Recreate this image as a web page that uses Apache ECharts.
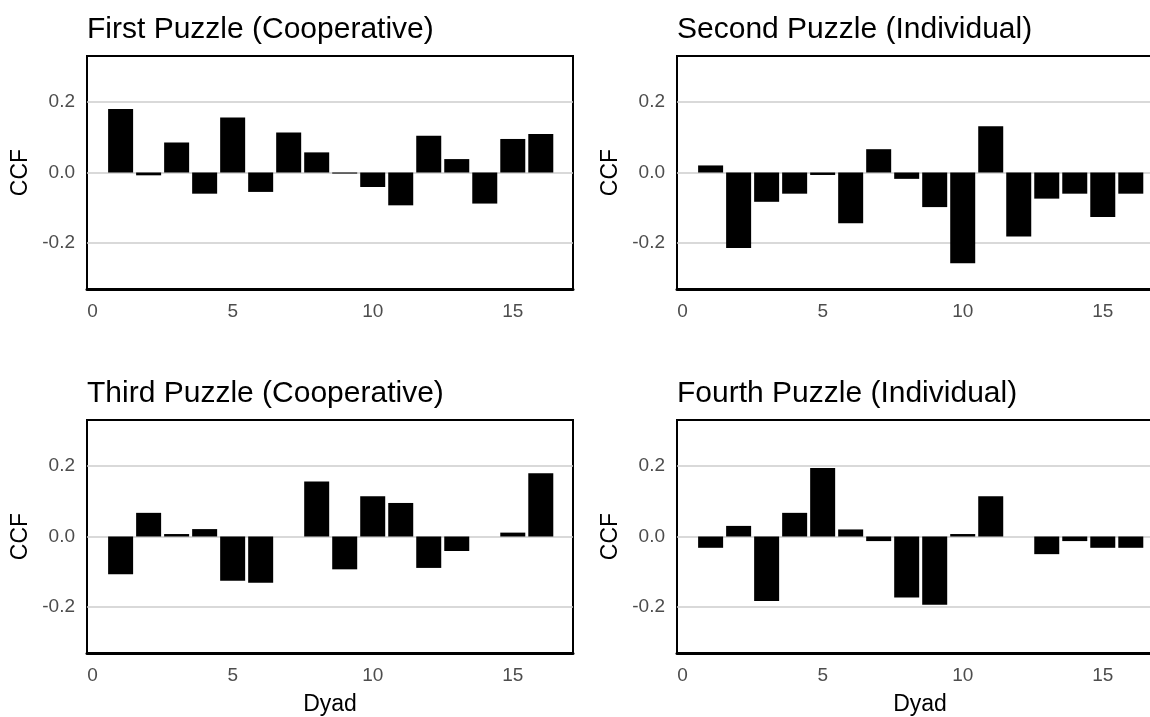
<!DOCTYPE html>
<html>
<head>
<meta charset="utf-8">
<script src="https://cdn.jsdelivr.net/npm/echarts@6/dist/echarts.min.js"></script>
<style>
  html, body { margin: 0; padding: 0; background: #fff; }
  #chart { width: 1150px; height: 717px; }
</style>
</head>
<body>
<div id="chart"></div>
<script>
// dyad numbers shared by every panel
const dyads = [1, 2, 3, 4, 5, 6, 7, 8, 9, 10, 11, 12, 13, 14, 15, 16]

// CCF values
const firstPuzzle = [0.180, -0.008, 0.085, -0.060, 0.156, -0.055, 0.113, 0.057, -0.003, -0.041, -0.093, 0.104, 0.038, -0.088, 0.095, 0.109]
const secondPuzzle = [0.020, -0.214, -0.083, -0.060, -0.007, -0.144, 0.066, -0.018, -0.098, -0.257, 0.131, -0.181, -0.074, -0.060, -0.126, -0.060]
const thirdPuzzle = [-0.107, 0.067, 0.007, 0.021, -0.125, -0.131, 0, 0.156, -0.093, 0.114, 0.095, -0.089, -0.041, 0, 0.011, 0.179]
const fourthPuzzle = [-0.032, 0.030, -0.183, 0.067, 0.194, 0.020, -0.013, -0.173, -0.193, 0.007, 0.114, 0, -0.050, -0.013, -0.032, -0.032]

const titles = ['First Puzzle (Cooperative)', 'Second Puzzle (Individual)', 'Third Puzzle (Cooperative)', 'Fourth Puzzle (Individual)']
const xTicks = [0, 5, 10, 15]
const yTicks = [-0.2, 0, 0.2]

const panels = [firstPuzzle, secondPuzzle, thirdPuzzle, fourthPuzzle]

// panel placement (px) - right column runs past the page edge like the original
const lefts = [87, 677, 87, 677]
const rights = [577, -13, 577, -13]
const tops = [56, 56, 420, 420]
const H = 233
const xMin = -0.2, xMax = 17.15

const font = 'Liberation Sans, Arial, sans-serif'

const chart = echarts.init(document.getElementById('chart'), null, { renderer: 'canvas' })

const option = {
  backgroundColor: '#fff',
  animation: false,
  title: titles.map((t, i) => ({
    text: t,
    left: lefts[i],
    top: tops[i] - 41,
    padding: 0,
    textStyle: { fontFamily: font, fontSize: 30, fontWeight: 'normal', color: '#000' }
  })),
  grid: panels.map((p, i) => ({
    left: lefts[i],
    right: rights[i],
    top: tops[i],
    height: H,
    outerBoundsMode: 'none',
    containLabel: false,
    show: true,
    borderColor: '#000',
    borderWidth: 2,
    backgroundColor: '#fff'
  })),
  xAxis: panels.map((p, i) => ({
    type: 'value',
    gridIndex: i,
    min: xMin,
    max: xMax,
    name: i >= 2 ? 'Dyad' : '',
    nameLocation: 'middle',
    nameGap: 40,
    nameTextStyle: { fontFamily: font, fontSize: 23, color: '#000' },
    axisLine: { show: true, onZero: false, lineStyle: { color: '#000', width: 3 } },
    axisTick: { show: false },
    splitLine: { show: false },
    axisLabel: {
      customValues: xTicks,
      margin: 13,
      fontFamily: font,
      fontSize: 19,
      color: '#4d4d4d'
    }
  })),
  yAxis: panels.map((p, i) => ({
    type: 'value',
    gridIndex: i,
    min: -0.33,
    max: 0.33,
    name: 'CCF',
    nameLocation: 'middle',
    nameGap: 55,
    nameRotate: 90,
    nameTextStyle: { fontFamily: font, fontSize: 23, color: '#000' },
    axisLine: { show: false },
    axisTick: { show: false, customValues: yTicks },
    splitLine: { show: true, lineStyle: { color: '#cccccc', width: 1.5 } },
    axisLabel: {
      customValues: yTicks,
      margin: 12,
      fontFamily: font,
      fontSize: 19,
      color: '#4d4d4d',
      formatter: v => v.toFixed(1)
    }
  })),
  series: panels.map((p, i) => ({
    type: 'bar',
    xAxisIndex: i,
    yAxisIndex: i,
    barWidth: 25,
    data: dyads.map((d, k) => [d, p[k]]),
    itemStyle: { color: '#000' }
  }))
}

chart.setOption(option)
</script>
</body>
</html>
